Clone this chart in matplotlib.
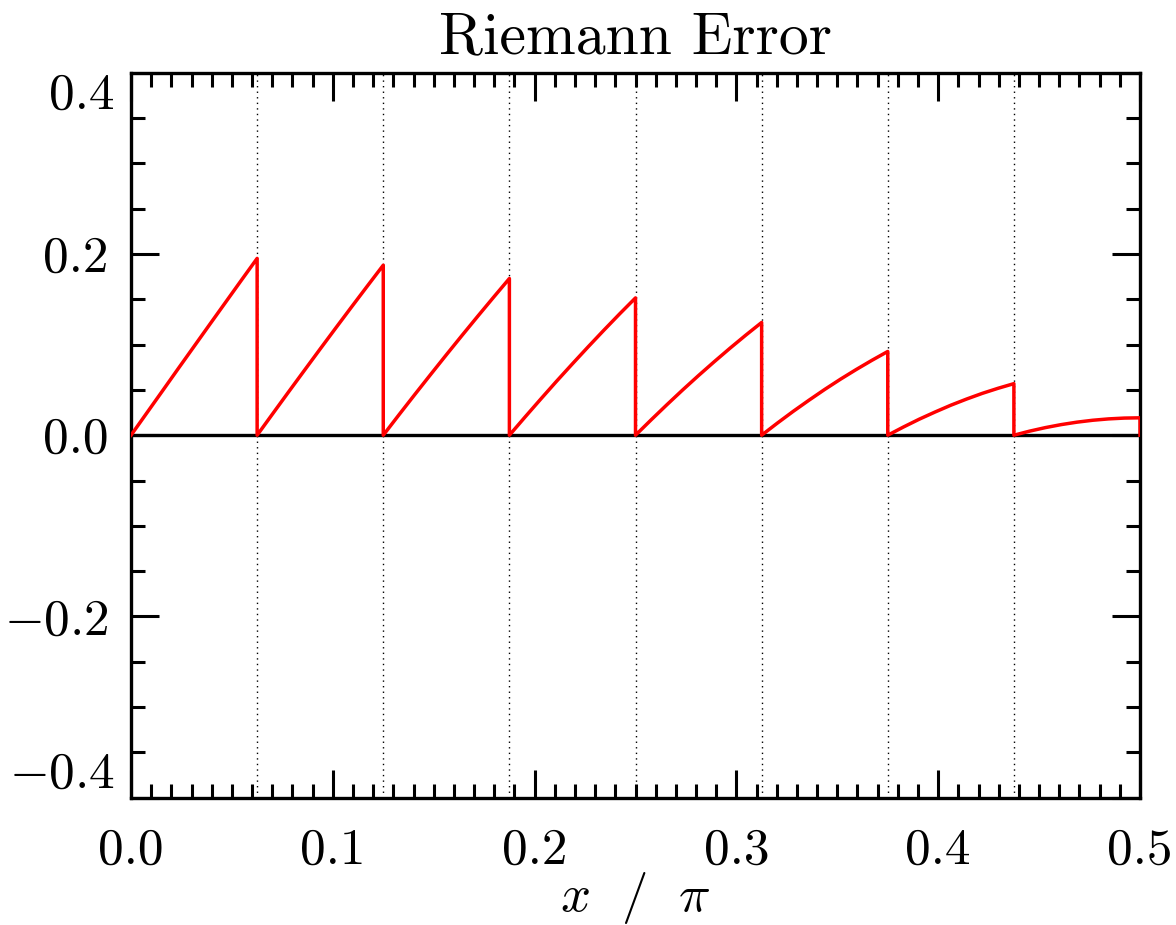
import matplotlib
matplotlib.use('Agg')
import matplotlib.pyplot as plt
from matplotlib.ticker import MultipleLocator

plt.rcParams['font.family'] = 'cmr10'
plt.rcParams['mathtext.fontset'] = 'cm'
plt.rcParams['axes.formatter.use_mathtext'] = True

frac = [0.0, 0.125, 0.25, 0.375, 0.5, 0.625, 0.75, 0.875, 1.0]
edges = [0.0, 0.0625, 0.125, 0.1875, 0.25, 0.3125, 0.375, 0.4375, 0.5]
teeth = [
    [0.0, 0.0245, 0.0490, 0.0736, 0.0980, 0.1224, 0.1467, 0.1710, 0.1951],
    [0.0, 0.0240, 0.0479, 0.0716, 0.0952, 0.1186, 0.1418, 0.1648, 0.1876],
    [0.0, 0.0226, 0.0449, 0.0669, 0.0887, 0.1102, 0.1314, 0.1523, 0.1729],
    [0.0, 0.0202, 0.0401, 0.0597, 0.0788, 0.0976, 0.1160, 0.1340, 0.1515],
    [0.0, 0.0171, 0.0338, 0.0501, 0.0659, 0.0812, 0.0961, 0.1105, 0.1244],
    [0.0, 0.0134, 0.0263, 0.0386, 0.0505, 0.0618, 0.0725, 0.0827, 0.0924],
    [0.0, 0.0091, 0.0177, 0.0256, 0.0331, 0.0399, 0.0462, 0.0518, 0.0569],
    [0.0, 0.0045, 0.0084, 0.0117, 0.0144, 0.0165, 0.0180, 0.0189, 0.0192],
]
yticks = [-0.4, -0.2, 0.0, 0.2, 0.4]
ylabels = ['$-$0.4', '$-$0.2', '0.0', '0.2', '0.4']

fig = plt.figure(figsize=(11.76, 9.25), dpi=100)
ax = fig.add_axes([0.1114, 0.1376, 0.8580, 0.7838])

xs, ys = [], []
for k, tooth in enumerate(teeth):
    w = edges[k + 1] - edges[k]
    xs += [edges[k] + f * w for f in frac] + [edges[k + 1]]
    ys += list(tooth) + [0.0]
ax.plot(xs, ys, color='red', lw=2.5, zorder=3)

ax.axhline(0, color='black', lw=2.4, zorder=2)
for e in edges[1:-1]:
    ax.axvline(e, color='black', lw=1.0, ls=(0, (1, 3)), zorder=1)

ax.set_xlim(0, 0.5)
ax.set_ylim(-0.4, 0.4)
ax.xaxis.set_major_locator(MultipleLocator(0.1))
ax.xaxis.set_minor_locator(MultipleLocator(0.01))
ax.yaxis.set_minor_locator(MultipleLocator(0.05))
ax.xaxis.set_major_formatter(plt.FuncFormatter(lambda v, p: '%.1f' % v))
# end labels sit inside the axis range, as IDL draws them
ax.set_yticks(yticks, [''] + ylabels[1:-1] + [''])
ytr = ax.get_yaxis_transform()
ax.text(-0.016, yticks[0], ylabels[0], transform=ytr, ha='right', va='bottom',
        fontsize=37)
ax.text(-0.016, yticks[-1], ylabels[-1], transform=ytr, ha='right', va='top',
        fontsize=37)

ax.tick_params(which='both', direction='in', top=True, right=True, width=2.2)
ax.tick_params(which='major', length=20, labelsize=37)
ax.tick_params(which='minor', length=10)
ax.tick_params(axis='x', pad=22)
ax.tick_params(axis='y', pad=16)
for s in ax.spines.values():
    s.set_linewidth(2.4)

ax.set_title('Riemann Error', fontsize=43, pad=14)
ax.set_xlabel(r'$x\ \ /\ \ \pi$', fontsize=38, labelpad=-3)

fig.savefig('out.png', dpi=100)
